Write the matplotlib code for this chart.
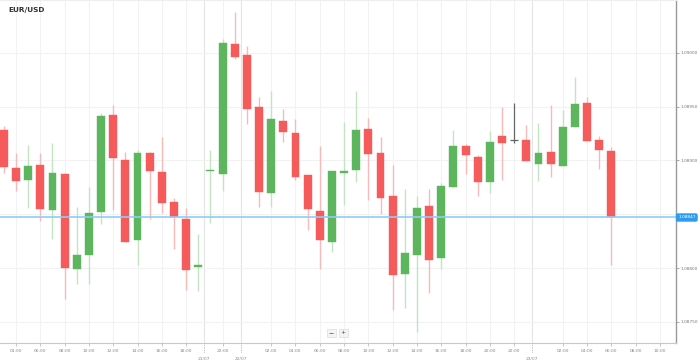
import numpy as np
import pandas as pd
import matplotlib.pyplot as plt
import matplotlib.transforms as mtransforms

# EUR/USD velas horarias (vie 19/07 03:00-19:00, dom 21/07 21:00 - mar 23/07 06:00)
open_ = [1.08928, 1.08893, 1.08882, 1.08896, 1.08854, 1.08887, 1.08799, 1.08812, 1.08852, 1.08942,
         1.08900, 1.08826, 1.08907, 1.08889, 1.08861, 1.08846, 1.08801, 1.08890, 1.08887, 1.09008,
         1.08998, 1.08950, 1.08870, 1.08937, 1.08925, 1.08886, 1.08853, 1.08824, 1.08888, 1.08891,
         1.08929, 1.08907, 1.08867, 1.08795, 1.08812, 1.08858, 1.08809, 1.08875, 1.08913, 1.08903,
         1.08880, 1.08923, 1.08919, 1.08919, 1.08897, 1.08908, 1.08895, 1.08931, 1.08953, 1.08919,
         1.08909]
high = [1.08932, 1.08907, 1.08914, 1.08907, 1.08916, 1.08888, 1.08857, 1.08875, 1.08944, 1.08951,
        1.08908, 1.08910, 1.08908, 1.08922, 1.08865, 1.08856, 1.08832, 1.08910, 1.09013, 1.09038,
        1.09006, 1.08959, 1.08964, 1.08948, 1.08938, 1.08886, 1.08913, 1.08890, 1.08936, 1.08964,
        1.08939, 1.08922, 1.08896, 1.08873, 1.08867, 1.08873, 1.08879, 1.08928, 1.08915, 1.08905,
        1.08927, 1.08950, 1.08953, 1.08933, 1.08935, 1.08951, 1.08947, 1.08977, 1.08959, 1.08923,
        1.08912]
low = [1.08888, 1.08872, 1.08856, 1.08844, 1.08827, 1.08771, 1.08785, 1.08785, 1.08841, 1.08854,
       1.08824, 1.08803, 1.08846, 1.08851, 1.08818, 1.08780, 1.08779, 1.08842, 1.08872, 1.08994,
       1.08934, 1.08857, 1.08857, 1.08917, 1.08882, 1.08835, 1.08799, 1.08815, 1.08859, 1.08880,
       1.08863, 1.08850, 1.08761, 1.08763, 1.08741, 1.08777, 1.08799, 1.08875, 1.08887, 1.08867,
       1.08870, 1.08882, 1.08916, 1.08899, 1.08881, 1.08885, 1.08895, 1.08931, 1.08918, 1.08892,
       1.08803]
close = [1.08894, 1.08881, 1.08895, 1.08855, 1.08888, 1.08800, 1.08812, 1.08851, 1.08941, 1.08902,
         1.08824, 1.08907, 1.08890, 1.08860, 1.08847, 1.08798, 1.08802, 1.08891, 1.09009, 1.08996,
         1.08948, 1.08871, 1.08938, 1.08926, 1.08885, 1.08855, 1.08826, 1.08890, 1.08890, 1.08928,
         1.08906, 1.08865, 1.08794, 1.08814, 1.08856, 1.08808, 1.08876, 1.08913, 1.08905, 1.08880,
         1.08917, 1.08916, 1.08919, 1.08899, 1.08907, 1.08897, 1.08931, 1.08952, 1.08918, 1.08910,
         1.08847]

tiempos = list(pd.date_range('2019-07-19 03:00', '2019-07-19 19:00', freq='h')) + \
          list(pd.date_range('2019-07-21 21:00', '2019-07-23 10:00', freq='h'))
precio_actual = 1.08847
precio_ticks = [1.08750, 1.08800, 1.08850, 1.08900, 1.08950, 1.09000]

rojo, verde = '#F55B5B', '#5DB65D'
rojo_m, verde_m = '#F9B9B9', '#C2E4C2'

o = np.array(open_); h = np.array(high); l = np.array(low); c = np.array(close)
n = len(o)

fig = plt.figure(figsize=(6.99, 3.62), dpi=100)
ax = fig.add_axes([0, 1 - 343 / 362, 676 / 699, 343 / 362])

# grid
hour_pos, hour_lab, date_pos, date_lab = [], [], [], []
for i, t in enumerate(tiempos):
    if i > 0 and t.date() != tiempos[i - 1].date():
        date_pos.append(i - 0.5)
        date_lab.append(t.strftime('%d/%m'))
    elif t.hour % 2 == 0 and t.hour != 0:
        hour_pos.append(i)
        hour_lab.append(t.strftime('%H:%M'))
for p in hour_pos:
    ax.axvline(p, color='#f2f2f2', lw=0.8, zorder=0)
for p in date_pos:
    ax.axvline(p, color='#e4e4e4', lw=0.8, zorder=0)
for p in precio_ticks:
    ax.axhline(p, color='#f2f2f2', lw=0.8, zorder=0)

# velas
for i in range(n):
    if abs(c[i] - o[i]) < 1e-9:
        ax.vlines(i, l[i], h[i], color='#666666', lw=0.9, zorder=2)
        ax.hlines(o[i], i - 0.33, i + 0.33, color='#666666', lw=0.9, zorder=3)
        continue
    col = verde if c[i] > o[i] else rojo
    colm = verde_m if c[i] > o[i] else rojo_m
    ax.vlines(i, l[i], h[i], color=colm, lw=1.0, zorder=2)
    alto = max(abs(c[i] - o[i]), 0.000015)
    ax.bar(i, alto, bottom=min(o[i], c[i]), width=0.65, color=col,
           edgecolor=col, lw=0.3, zorder=3)

# precio actual
ax.axhline(precio_actual, color='#8fcdf5', lw=1.2, zorder=4)
trans = mtransforms.blended_transform_factory(ax.transAxes, ax.transData)
ax.text(1.003, precio_actual, f'{precio_actual:.5f}', transform=trans, fontsize=3.1,
        color='white', va='center', ha='left', zorder=10, clip_on=False,
        bbox=dict(boxstyle='round,pad=0.35,rounding_size=0.3', fc='#2c9cf0', ec='#2c9cf0'))

ax.set_xlim(-0.317, 55.32)
ax.set_ylim(1.087305, 1.090489)

ax.yaxis.tick_right()
ax.set_yticks(precio_ticks)
ax.set_yticklabels([f'{p:.5f}' if abs(p - 1.0885) > 1e-7 else '' for p in precio_ticks])
ax.tick_params(axis='y', length=2, width=0.6, color='#999999', labelsize=3.1,
               labelcolor='#777777', pad=1.2)

ax.set_xticks(hour_pos)
ax.set_xticklabels(hour_lab)
ax.tick_params(axis='x', length=2.5, width=0.6, color='#bbbbbb', labelsize=3.2,
               labelcolor='#888888', pad=2)
ax.set_xticks(date_pos, minor=True)
ax.set_xticklabels(date_lab, minor=True)
ax.tick_params(axis='x', which='minor', length=0, labelsize=3.2, labelcolor='#888888', pad=10)
tx = mtransforms.blended_transform_factory(ax.transData, ax.transAxes)
for p in date_pos:
    ax.plot([p, p], [0, -0.03], transform=tx, color='#aaaaaa', lw=0.6,
            ls=(0, (1, 1)), clip_on=False)

ax.spines['left'].set_visible(False)
ax.spines['right'].set_color('#999999')
ax.spines['right'].set_linewidth(1.0)
ax.spines['bottom'].set_color('#c8c8c8')
ax.spines['top'].set_color('#eeeeee')

fig.text(8 / 699, 1 - 10 / 362, 'EUR/USD', fontsize=5.3, fontweight='bold',
         color='#333333', va='center', ha='left')

# botones zoom
for xb, s in [(331, '\u2212'), (343, '+')]:
    fig.text(xb / 699, 1 - 333 / 362, s, fontsize=4.5, color='#444444', ha='center',
             va='center', bbox=dict(boxstyle='square,pad=0.3', fc='#f4f4f4', ec='#dddddd', lw=0.5))

fig.savefig('out.png', dpi=100)
